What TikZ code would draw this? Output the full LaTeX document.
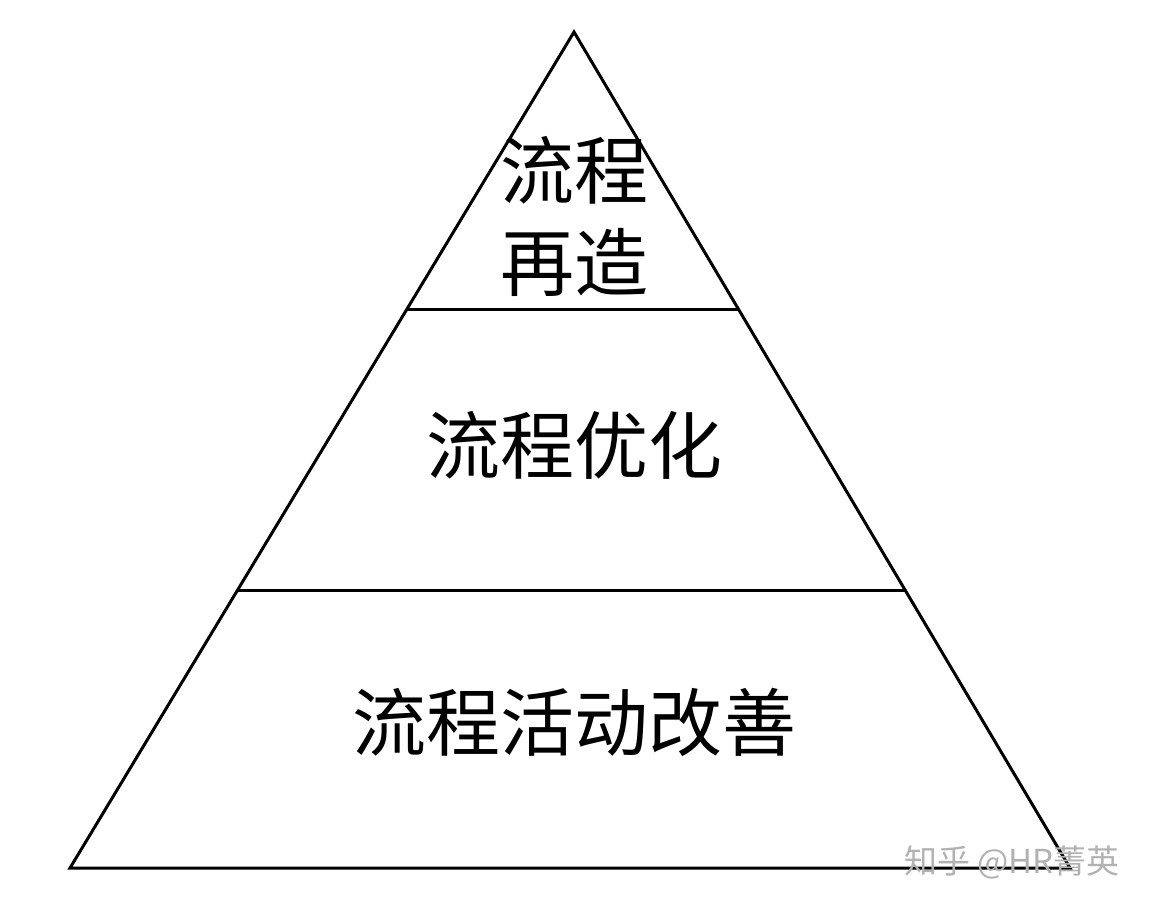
\documentclass[tikz,border=0pt]{standalone}
\usepackage{fontspec}
\newfontfamily\cjk{Noto Sans CJK SC}
\usetikzlibrary{calc}
\begin{document}
\begin{tikzpicture}[x=0.5pt,y=-0.5pt,
  edge/.style={line width=1.5pt,line join=miter},
  lab/.style={font=\cjk\fontsize{37}{46}\selectfont,align=center,inner sep=0pt},
  wm/.style={font=\cjk\fontsize{16.5}{19}\selectfont,text=gray!60,inner sep=0pt}]
\useasboundingbox (0,0) rectangle (1154,910);
\coordinate (A) at (574,32);
\coordinate (L) at (70,868);
\coordinate (R) at (1070,868);
\draw[edge] (A) -- (L) -- (R) -- cycle;
\coordinate (l1) at ($(A)!0.3325!(L)$);
\coordinate (r1) at ($(A)!0.3325!(R)$);
\coordinate (l2) at ($(A)!0.6675!(L)$);
\coordinate (r2) at ($(A)!0.6675!(R)$);
\draw[edge] (l1) -- (r1);
\draw[edge] (l2) -- (r2);
\node[lab] (t1) at (574,216) {流程\\再造};
\node[lab] (t2) at (574,445) {流程优化};
\node[lab] (t3) at (574,722) {流程活动改善};
\node[wm] (w) at (1012,862) {知乎 @HR菁英};
\end{tikzpicture}
\end{document}
